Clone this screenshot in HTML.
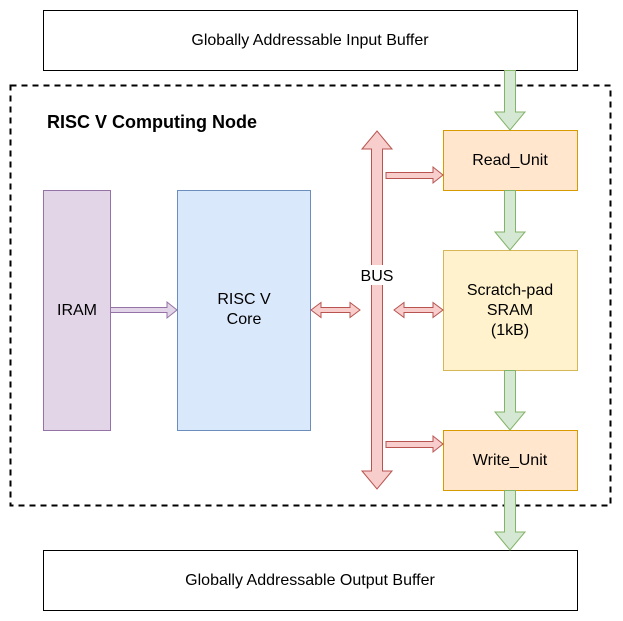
<!DOCTYPE html>
<html><head><style>body{margin:0;background:#fff}svg{display:block}</style></head>
<body>
<svg width="623" height="621" viewBox="0 0 623 621" xmlns="http://www.w3.org/2000/svg" font-family="Liberation Sans, sans-serif">
<rect x="0" y="0" width="623" height="621" fill="#fff"/>
<rect x="43.5" y="10.5" width="534" height="60" fill="#fff" stroke="#000"/>
<text x="310" y="45" font-size="16" text-anchor="middle">Globally Addressable Input Buffer</text>
<rect x="10.5" y="85.5" width="600" height="420" fill="none" stroke="#000" stroke-width="2" stroke-dasharray="6,5"/>
<text x="47" y="128" font-size="18" font-weight="bold">RISC V Computing Node</text>
<rect x="43.5" y="190.5" width="67" height="240" fill="#e1d5e7" stroke="#9673a6"/>
<text x="77" y="315" font-size="16" text-anchor="middle">IRAM</text>
<rect x="177.5" y="190.5" width="133" height="240" fill="#dae8fc" stroke="#6c8ebf"/>
<text x="244" y="304" font-size="16" text-anchor="middle">RISC V</text>
<text x="244" y="324" font-size="16" text-anchor="middle">Core</text>
<rect x="443.5" y="130.5" width="134" height="60" fill="#ffe6cc" stroke="#d79b00"/>
<text x="510" y="165" font-size="16" text-anchor="middle">Read_Unit</text>
<rect x="443.5" y="250.5" width="134" height="120" fill="#fff2cc" stroke="#d6b656"/>
<text x="510" y="295" font-size="16" text-anchor="middle">Scratch-pad</text>
<text x="510" y="315" font-size="16" text-anchor="middle">SRAM</text>
<text x="510" y="335" font-size="16" text-anchor="middle">(1kB)</text>
<rect x="443.5" y="430.5" width="134" height="60" fill="#ffe6cc" stroke="#d79b00"/>
<text x="510" y="465" font-size="16" text-anchor="middle">Write_Unit</text>
<rect x="43.5" y="550.5" width="534" height="60" fill="#fff" stroke="#000"/>
<text x="310" y="585" font-size="16" text-anchor="middle">Globally Addressable Output Buffer</text>
<g fill="#d5e8d4" stroke="#82b366">
<polygon points="504.5,70.5 515.5,70.5 515.5,112 525,112 510,130 495,112 504.5,112"/>
<polygon points="504.5,190.5 515.5,190.5 515.5,232 525,232 510,250 495,232 504.5,232"/>
<polygon points="504.5,370.5 515.5,370.5 515.5,412 525,412 510,430 495,412 504.5,412"/>
<polygon points="504.5,490.5 515.5,490.5 515.5,532 525,532 510,550 495,532 504.5,532"/>
</g>
<g fill="#f8cecc" stroke="#b85450">
<polygon points="377,131 392,149 382.5,149 382.5,471 392,471 377,489 362,471 371.5,471 371.5,149 362,149"/>
<polygon points="386,172.5 433,172.5 433,167 443,175 433,183 433,178.5 386,178.5"/>
<polygon points="386,441.5 433,441.5 433,436 443,444 433,452 433,447.5 386,447.5"/>
<polygon points="311,310 321,302.5 321,307.5 350,307.5 350,302.5 360,310 350,317.5 350,312.5 321,312.5 321,317.5"/>
<polygon points="394,310 404,302.5 404,307.5 433,307.5 433,302.5 443,310 433,317.5 433,312.5 404,312.5 404,317.5"/>
</g>
<rect x="358" y="265" width="38" height="20" fill="#fff"/>
<text x="377" y="281" font-size="16" text-anchor="middle">BUS</text>
<polygon points="110.5,307.5 167,307.5 167,302 177,310 167,318 167,312.5 110.5,312.5" fill="#e1d5e7" stroke="#9673a6"/>
</svg>
</body></html>
